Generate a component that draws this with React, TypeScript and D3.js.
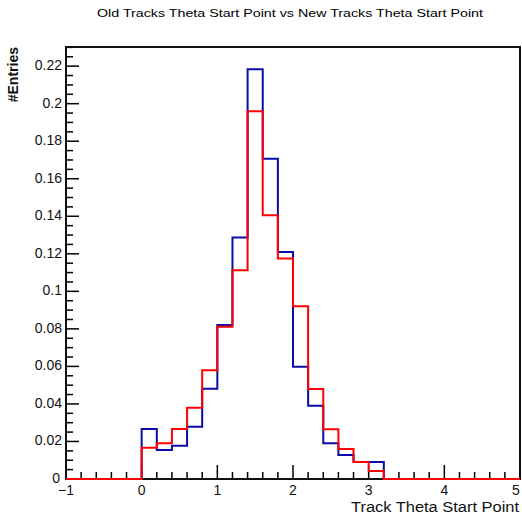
import React from "react";
import * as d3 from "d3";

// Histogram binning: 30 bins of width 0.2 on [-1, 5]
const xMin = -1;
const xMax = 5;
const binWidth = 0.2;

// Normalised bin contents (fraction of entries per bin), bins from -1 to 5
const oldTracks = [
  0, 0, 0, 0, 0,
  0.0266, 0.0154, 0.0177, 0.0279, 0.0481,
  0.082, 0.1287, 0.2183, 0.1706, 0.121,
  0.0598, 0.039, 0.019, 0.0128, 0.0091,
  0.0091, 0, 0, 0, 0,
  0, 0, 0, 0, 0,
];
const newTracks = [
  0, 0, 0, 0, 0,
  0.0167, 0.019, 0.0266, 0.038, 0.058,
  0.0811, 0.1113, 0.196, 0.1406, 0.1175,
  0.0921, 0.0479, 0.0265, 0.016, 0.0091,
  0.0042, 0, 0, 0, 0,
  0, 0, 0, 0, 0,
];

const xTicks = [-1, 0, 1, 2, 3, 4, 5];
const yTicks = [0, 0.02, 0.04, 0.06, 0.08, 0.1, 0.12, 0.14, 0.16, 0.18, 0.2, 0.22];

const title = "Old Tracks Theta Start Point vs New Tracks Theta Start Point";
const xTitle = "Track Theta Start Point";
const yTitle = "#Entries";

const W = 522;
const H = 518;
const left = 66;
const right = 520;
const top = 47;
const bottom = 479;
const yMax = 0.2302;
const font = "Liberation Sans, Arial, Helvetica, sans-serif";

function stepPath(values: number[], x: d3.ScaleLinear<number, number>, y: d3.ScaleLinear<number, number>) {
  const pts: [number, number][] = [[xMin, 0]];
  values.forEach((v, i) => {
    const lo = xMin + i * binWidth;
    pts.push([lo, v], [lo + binWidth, v]);
  });
  pts.push([xMax, 0]);
  return d3.line<[number, number]>().x((d) => x(d[0])).y((d) => y(d[1]))(pts) || "";
}

export default function App() {
  const x = d3.scaleLinear().domain([xMin, xMax]).range([left, right]);
  const y = d3.scaleLinear().domain([0, yMax]).range([bottom, top]);

  const xMinor = d3.range(xMin, xMax + 1e-9, 0.2).filter((v) => Math.abs(v - Math.round(v)) > 1e-6);
  const yMinor = d3.range(0, yMax, 0.005).filter((v) => Math.abs(v / 0.02 - Math.round(v / 0.02)) > 1e-6);

  return (
    <svg
      width={W}
      height={H}
      style={{ position: "absolute", left: 0, top: 0, background: "#fff" }}
      fontFamily={font}
    >
      <rect x={0} y={0} width={W} height={H} fill="#fff" />
      <text x={290} y={17} textAnchor="middle" fontSize={11.5} fill="#000" textLength={386} lengthAdjust="spacingAndGlyphs">
        {title}
      </text>

      {/* y ticks */}
      {yTicks.map((t) => (
        <g key={"y" + t}>
          <line x1={left} x2={left + 13} y1={y(t)} y2={y(t)} stroke="#000" strokeWidth={1.5} />
          <text x={t === 0 ? 60 : 62} y={y(t) + 4} textAnchor="end" fontSize={14} fill="#111">
            {d3.format("~g")(t)}
          </text>
        </g>
      ))}
      {yMinor.map((t) => (
        <line key={"ym" + t} x1={left} x2={left + 7} y1={y(t)} y2={y(t)} stroke="#000" strokeWidth={1.5} />
      ))}

      {/* x ticks */}
      {xTicks.map((t) => (
        <g key={"x" + t}>
          <line x1={x(t)} x2={x(t)} y1={bottom} y2={bottom - 14} stroke="#000" strokeWidth={1.5} />
          <text x={Math.min(x(t), 516)} y={495} textAnchor="middle" fontSize={14} fill="#111">
            {t < 0 ? "\u2212" + Math.abs(t) : t}
          </text>
        </g>
      ))}
      {xMinor.map((t) => (
        <line key={"xm" + t} x1={x(t)} x2={x(t)} y1={bottom} y2={bottom - 7} stroke="#000" strokeWidth={1.5} />
      ))}

      {/* frame */}
      <rect x={left} y={top} width={right - left} height={bottom - top} fill="none" stroke="#111" strokeWidth={2} />

      {/* histograms */}
      <path d={stepPath(oldTracks, x, y)} fill="none" stroke="#0b0ba8" strokeWidth={2} />
      <path d={stepPath(newTracks, x, y)} fill="none" stroke="#ff0000" strokeWidth={2} />

      <text x={519} y={512} textAnchor="end" fontSize={14} fill="#111" textLength={168} lengthAdjust="spacingAndGlyphs">
        {xTitle}
      </text>
      <text
        transform={`translate(18, ${top}) rotate(-90)`}
        textAnchor="end"
        fontSize={14}
        fontWeight="bold"
        fill="#111"
      >
        {yTitle}
      </text>
    </svg>
  );
}
